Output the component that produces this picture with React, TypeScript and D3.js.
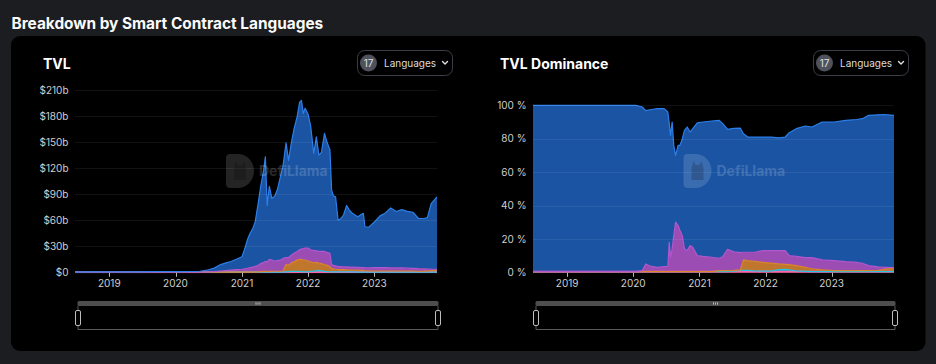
import React from 'react';
import * as d3 from 'd3';

// ---------- TVL (USD billions) ----------
const tvlDates = [
  '2018-06-26','2018-09-01','2018-12-01','2019-03-01','2019-06-01','2019-09-01','2019-12-01','2020-02-01','2020-04-01','2020-05-15',
  '2020-07-01','2020-08-01','2020-09-01','2020-10-01','2020-11-01','2020-12-01','2021-01-01','2021-01-15','2021-02-01','2021-02-15',
  '2021-03-01','2021-03-15','2021-04-01','2021-04-15','2021-05-01','2021-05-10','2021-05-20','2021-06-01','2021-06-15','2021-07-01',
  '2021-07-15','2021-08-01','2021-08-15','2021-09-01','2021-09-15','2021-10-01','2021-10-15','2021-11-01','2021-11-15','2021-11-25',
  '2021-12-05','2021-12-15','2022-01-01','2022-01-15','2022-02-01','2022-02-15','2022-03-01','2022-03-15','2022-04-01','2022-04-15',
  '2022-05-01','2022-05-10','2022-05-20','2022-06-01','2022-06-15','2022-07-01','2022-07-15','2022-08-01','2022-08-15','2022-09-01',
  '2022-10-01','2022-11-01','2022-11-10','2022-12-01','2023-01-01','2023-02-01','2023-03-01','2023-04-01','2023-05-01','2023-06-01',
  '2023-07-01','2023-08-01','2023-09-01','2023-10-01','2023-10-20','2023-11-10','2023-12-12',
];
const tvlSolidity = [
  0.1,0.2,0.3,0.4,0.4,0.5,0.5,0.6,0.7,0.9,
  2.4,4,7,8.5,9.9,12,14.5,22,33.3,39.7,
  44,51,72,90,106.5,120.5,65,84,71,75,
  81.5,96,106,132,112,130,143,155,170,171,
  156,161,154,142,112,131,111,114,136,127,
  119,86,80,79.5,53.5,55.5,59.7,70.8,66,62,
  58.2,62.5,47.2,46.8,52.5,59.5,62.8,69,65,67.2,
  65.4,64.6,57.8,58,59.2,75.4,83.5,
];
const tvlRust = [
  0,0,0,0,0,0,0,0,0,0.1,
  0.3,0.6,1.3,1.8,2.4,2.8,3.2,3.7,4.4,5,
  5.7,6.7,7.5,9.2,10.5,11.5,11.2,14,12.8,11.8,
  12.3,12.8,14.5,8,9,9,10,10,11,12,
  13,14,15,14,14,13.5,13.5,14,15,15,
  15.5,4.4,4,4,3.5,3.5,3.3,3.4,3.4,3.5,
  3.3,3.2,3.5,3.6,4,4,3.8,3.6,3.6,3.5,
  3.3,3.1,3,2.7,2.3,1.6,1.2,
];
const tvlVyper = [
  0,0,0,0,0,0,0,0,0,0,
  0,0,0,0,0,0,0.1,0.1,0.1,0.1,
  0.1,0.1,0.3,0.6,0.8,0.8,0.6,0.8,1,1,
  1,1,1.3,8.5,7.3,10,10.9,13,14.2,14.3,
  13.3,13.4,12.3,11,9.6,9.5,8.3,8.3,8,7.3,
  5.9,4.1,3.6,3.1,2.6,2.6,2.6,2.4,2.2,2.1,
  2.1,1.9,1.5,1.3,1.2,1.2,1.2,1.2,1.2,1.2,
  1.2,1.2,0.9,1,1.2,1.7,2,
];
const tvlMove = [
  0,0,0,0,0,0,0,0,0,0,
  0,0,0,0,0,0,0,0,0,0,
  0,0,0,0,0,0,0,0,0,0,
  0,0,0,0.3,0.5,0.8,0.9,0.8,0.6,0.5,
  0.5,0.4,0.5,0.8,1.2,1.8,2,1.5,0.8,0.5,
  0.4,0.3,0.2,0.2,0.2,0.2,0.2,0.2,0.2,0.2,
  0.1,0.1,0.1,0.1,0.1,0.1,0.1,0.1,0.1,0.1,
  0.1,0.1,0.1,0.1,0.1,0.1,0.1,
];
const tvlOther = [
  0.2,0.2,0.2,0.2,0.2,0.2,0.2,0.2,0.2,0.2,
  0.2,0.2,0.2,0.2,0.2,0.2,0.2,0.2,0.2,0.2,
  0.2,0.2,0.2,0.2,0.2,0.2,0.2,0.2,0.2,0.2,
  0.2,0.2,0.2,0.2,0.2,0.2,0.2,0.2,0.2,0.2,
  0.2,0.2,0.2,0.2,0.2,0.2,0.2,0.2,0.2,0.2,
  0.2,0.2,0.2,0.2,0.2,0.2,0.2,0.2,0.2,0.2,
  0.2,0.2,0.2,0.2,0.2,0.2,0.2,0.2,0.2,0.2,
  0.2,0.2,0.2,0.2,0.2,0.2,0.2,
];

// ---------- TVL Dominance (%) ----------
const domDates = [
  '2018-06-26','2019-06-01','2020-01-15','2020-02-20','2020-03-10','2020-04-10','2020-05-15','2020-06-20','2020-07-10','2020-07-18',
  '2020-07-25','2020-08-03','2020-08-12','2020-08-22','2020-09-05','2020-09-15','2020-09-28','2020-10-10','2020-10-25','2020-11-10',
  '2020-11-25','2020-12-20','2021-01-20','2021-03-10','2021-04-20','2021-05-10','2021-06-05','2021-07-10','2021-08-15','2021-09-01',
  '2021-09-25','2021-11-01','2021-12-15','2022-02-01','2022-03-15','2022-04-20','2022-05-12','2022-06-20','2022-08-10','2022-09-15',
  '2022-11-10','2023-01-15','2023-03-20','2023-05-20','2023-06-20','2023-07-25','2023-09-15','2023-10-20','2023-12-12',
];
const domSolidity = [
  99.6,99.6,99.6,98,91.8,94,95,94.6,92.4,71,
  73,76,54,40,48,51,58,71,74,68,
  71,79.5,80.5,81.6,82.6,79.5,71.8,74,74.5,71,
  69,69,68,68,67.5,68,73.6,76.5,78.8,78.2,
  82.6,83,84.6,85.5,86.6,90,91.1,91.5,91.2,
];
const domRust = [
  0,0,0,0.6,4.6,3.1,2.6,3,3.2,17.6,
  8.6,13.6,21.6,29.6,27.6,24.6,21.6,13.6,12.6,15.6,
  14.6,9.6,9.1,8.6,7.4,8.5,12.8,11,10.3,4.6,
  5,5.5,7,7.5,8,8.2,5.4,5.5,5.8,6.8,
  5.9,6,5.4,5,4.4,3,2,1.2,0.2,
];
const domVyper = [
  0,0,0,0,0,0,0,0,0,0,
  0,0,0,0,0,0,0,0,0,0,
  0,0,0,0,0.6,0.6,0.6,0.5,0.3,6.2,
  5.8,5.6,5.3,4.8,3.4,3.1,3.2,3.1,2.4,1.6,
  1.1,0.6,0.6,0.6,0.6,0.6,0.8,1.4,2.2,
];
const domMove = [
  0,0,0,0,0,0,0,0,0,0,
  0,0,0,0,0,0,0,0,0,0,
  0,0,0,0,0,0,0,0.3,0.8,0.8,
  0.8,0.5,0.3,0.3,1.2,1.3,1,0.5,0.2,0,
  0,0,0,0,0,0,0,0,0,
];
const domOther = [
  0.4,0.4,0.4,0.4,0.4,0.4,0.4,0.4,0.4,0.4,
  0.4,0.4,0.4,0.4,0.4,0.4,0.4,0.4,0.4,0.4,
  0.4,0.4,0.4,0.4,0.4,0.4,0.4,0.4,0.4,0.4,
  0.4,0.4,0.4,0.4,0.4,0.4,0.4,0.4,0.4,0.4,
  0.4,0.4,0.4,0.4,0.4,0.4,0.4,0.4,0.4,
];

const tvlTicks = [0, 30, 60, 90, 120, 150, 180, 210];
const domTicks = [0, 20, 40, 60, 80, 100];
const yearTicks = ['2019', '2020', '2021', '2022', '2023'];

const mainTitle = 'Breakdown by Smart Contract Languages';
const languageCount = '17';

// ---------- styles ----------
const KEYS = ['Other', 'Move', 'Vyper', 'Rust', 'Solidity'];
const FILL: Record<string, string> = {
  Solidity: '#1a54a3', Rust: '#9b4db4', Vyper: '#bf772d', Move: '#1aa6c2', Other: '#ee5c9c',
};
const STROKE: Record<string, string> = {
  Solidity: '#2c7fea', Rust: '#b257cf', Vyper: '#d9862e', Move: '#26c4e2', Other: '#ff66aa',
};
const FONT = 'Inter, "Noto Sans", sans-serif';
const parse = d3.utcParse('%Y-%m-%d');

type ChartProps = {
  id: string;
  title: string;
  dates: string[];
  values: Record<string, number[]>;
  yMax: number;
  yTicks: number[];
  fmt: (v: number) => string;
  left: number;
  right: number;
  top: number;
  bottom: number;
  titleX: number;
  buttonX: number;
};

function Watermark({ cx, cy }: { cx: number; cy: number }) {
  const lx = cx - 38;
  const ly = cy - 17;
  return (
    <g pointerEvents="none">
      <path
        d={`M${lx},${ly + 4} Q${lx},${ly} ${lx + 4},${ly} H${lx + 12} A16,17 0 0 1 ${lx + 12},${ly + 34} H${lx + 4} Q${lx},${ly + 34} ${lx},${ly + 30} Z`}
        fill="#ffffff"
        opacity={0.14}
      />
      <path
        d={`M${lx + 8},${ly + 26} V${ly + 14} L${lx + 10},${ly + 7} L${lx + 12},${ly + 11} H${lx + 16} L${lx + 18},${ly + 7} L${lx + 20},${ly + 14} V${ly + 26} Z`}
        fill="#000"
        opacity={0.18}
      />
      <text x={cx - 5} y={cy + 5} fontFamily={FONT} fontWeight={700} fontSize={14} fill="#ffffff" opacity={0.16}>
        DefiLlama
      </text>
    </g>
  );
}

function Chart(p: ChartProps) {
  const xs = p.dates.map((d) => parse(d) as Date);
  const x = d3.scaleUtc().domain(d3.extent(xs) as [Date, Date]).range([p.left, p.right]);
  const y = d3.scaleLinear().domain([0, p.yMax]).range([p.bottom, p.top]);
  const rows = xs.map((d, i) => {
    const r: any = { date: d };
    KEYS.forEach((k) => (r[k] = p.values[k][i]));
    return r;
  });
  const stacked = d3.stack<any>().keys(KEYS)(rows);
  const area = d3
    .area<any>()
    .x((d) => x(d.data.date))
    .y0((d) => y(d[0]))
    .y1((d) => y(d[1]));
  const line = d3
    .line<any>()
    .x((d) => x(d.data.date))
    .y((d) => y(d[1]));
  const yearDates = yearTicks.map((t) => parse(`${t}-01-01`) as Date);
  const cx = (p.left + p.right) / 2 + 8;
  const sx0 = p.left + 2.5;
  const sx1 = p.right + 1.5;
  const bx = p.buttonX;

  return (
    <g>
      <text x={p.titleX} y={68.5} fontFamily={FONT} fontWeight={700} fontSize={14} fill="#ffffff">
        {p.title}
      </text>
      {/* language selector */}
      <rect x={bx + 0.5} y={50.5} width={95} height={25} rx={7} fill="#000" stroke="#3b3e47" />
      <circle cx={bx + 11.5} cy={63} r={8.5} fill="#4f525d" />
      <text x={bx + 11.5} y={66.5} textAnchor="middle" fontFamily={FONT} fontSize={10} fill="#e0e0e0">
        {languageCount}
      </text>
      <text x={bx + 27} y={66.5} fontFamily={FONT} fontSize={10} fill="#dcdcdc">
        Languages
      </text>
      <path
        d={`M${bx + 85.5},${61.5} L${bx + 88},${64} L${bx + 90.5},${61.5}`}
        fill="none"
        stroke="#e0e0e0"
        strokeWidth={1.4}
        strokeLinecap="round"
        strokeLinejoin="round"
      />

      {/* y axis labels */}
      {p.yTicks.map((t) => (
        <text
          key={t}
          x={p.left - 6.5}
          y={y(t) + 3.6}
          textAnchor="end"
          fontFamily={FONT}
          fontSize={10}
          fill="#cfcfcf"
        >
          {p.fmt(t)}
        </text>
      ))}

      <clipPath id={p.id}>
        <rect x={p.left} y={p.top - 20} width={p.right - p.left + 1} height={p.bottom - p.top + 21} />
      </clipPath>

      <g clipPath={`url(#${p.id})`}>
        {stacked.map((s) => (
          <path key={s.key} d={area(s) || ''} fill={FILL[s.key]} />
        ))}
        {stacked.map((s) => (
          <path
            key={s.key + '-l'}
            d={line(s) || ''}
            fill="none"
            stroke={STROKE[s.key]}
            strokeWidth={s.key === 'Other' ? 2 : 1.2}
            strokeLinejoin="round"
          />
        ))}
      </g>

      {/* grid lines */}
      {p.yTicks.map((t) =>
        t === 0 ? null : (
          <line
            key={'g' + t}
            x1={p.left}
            x2={p.right}
            y1={Math.round(y(t)) + 0.5}
            y2={Math.round(y(t)) + 0.5}
            stroke="#ffffff"
            strokeOpacity={0.07}
          />
        )
      )}

      {/* x axis */}
      {yearDates.map((d, i) => (
        <g key={yearTicks[i]}>
          <line
            x1={Math.round(x(d)) + 0.5}
            x2={Math.round(x(d)) + 0.5}
            y1={p.bottom + 0.5}
            y2={p.bottom + 4.5}
            stroke="#b8b8b8"
          />
          <text x={x(d)} y={287} textAnchor="middle" fontFamily={FONT} fontSize={10} fill="#cfcfcf">
            {yearTicks[i]}
          </text>
        </g>
      ))}

      <Watermark cx={cx} cy={171} />

      {/* data zoom slider */}
      <rect x={sx0} y={301} width={sx1 - sx0} height={5} rx={1.5} fill="#4e4e4e" />
      <g stroke="#cfcfcf" strokeWidth={0.8}>
        <line x1={(sx0 + sx1) / 2 - 2} x2={(sx0 + sx1) / 2 - 2} y1={302.3} y2={304.7} />
        <line x1={(sx0 + sx1) / 2} x2={(sx0 + sx1) / 2} y1={302.3} y2={304.7} />
        <line x1={(sx0 + sx1) / 2 + 2} x2={(sx0 + sx1) / 2 + 2} y1={302.3} y2={304.7} />
      </g>
      <path
        d={`M${sx0 + 0.5},306 V329.5 H${sx1 - 0.5} V306`}
        fill="none"
        stroke="#5a5a5a"
        strokeWidth={1}
      />
      <rect x={sx0 - 2} y={310.5} width={5} height={15} rx={1.5} fill="#000" stroke="#bdbdbd" />
      <rect x={sx1 - 3} y={310.5} width={5} height={15} rx={1.5} fill="#000" stroke="#bdbdbd" />
    </g>
  );
}

export default function App() {
  const tvlValues = { Solidity: tvlSolidity, Rust: tvlRust, Vyper: tvlVyper, Move: tvlMove, Other: tvlOther };
  const domValues = { Solidity: domSolidity, Rust: domRust, Vyper: domVyper, Move: domMove, Other: domOther };
  return (
    <svg
      width={936}
      height={364}
      style={{ position: 'absolute', left: 0, top: 0, display: 'block' }}
      xmlns="http://www.w3.org/2000/svg"
    >
      <rect x={0} y={0} width={936} height={364} fill="#1c1d21" />
      <text x={11.5} y={29} fontFamily={FONT} fontWeight={700} fontSize={15.4} fill="#fafafa">
        {mainTitle}
      </text>
      <rect x={11} y={36} width={914.5} height={315} rx={9} fill="#000000" />
      <Chart
        id="clip-tvl"
        title="TVL"
        dates={tvlDates}
        values={tvlValues}
        yMax={210}
        yTicks={tvlTicks}
        fmt={(v) => (v === 0 ? '$0' : `$${v}b`)}
        left={75}
        right={437}
        top={90}
        bottom={272.3}
        titleX={43}
        buttonX={357}
      />
      <Chart
        id="clip-dom"
        title="TVL Dominance"
        dates={domDates}
        values={domValues}
        yMax={100}
        yTicks={domTicks}
        fmt={(v) => `${v} %`}
        left={533}
        right={894}
        top={105.3}
        bottom={272.3}
        titleX={500}
        buttonX={813}
      />
    </svg>
  );
}
